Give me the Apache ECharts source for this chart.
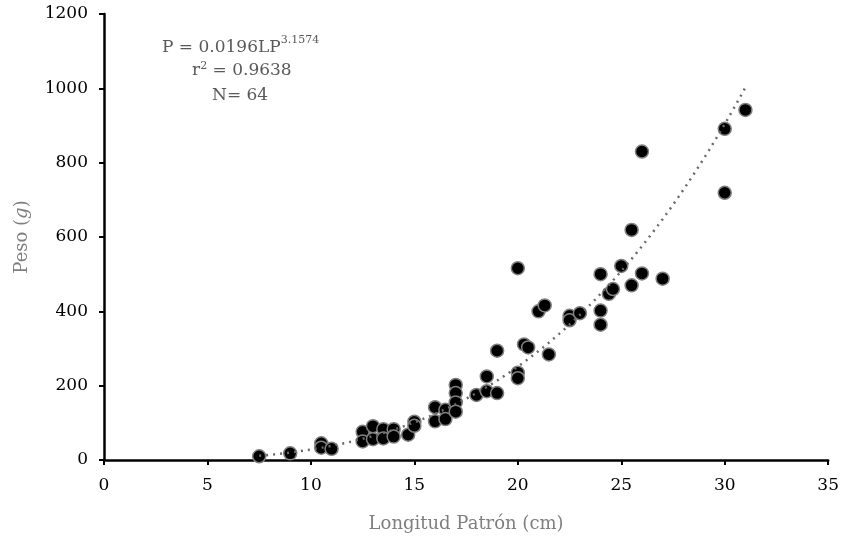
<!DOCTYPE html>
<html>
<head>
<meta charset="utf-8">
<script src="https://cdn.jsdelivr.net/npm/echarts@6/dist/echarts.min.js"></script>
<style>
html,body{margin:0;padding:0;background:#fff;}
#chart{width:842px;height:538px;}
</style>
</head>
<body>
<div id="chart"></div>
<script>
// Longitud Patrón (cm)
var lengths = [7.5, 9, 10.5, 10.5, 11, 12.5, 12.5, 13, 13, 13.5, 13.5, 14, 14, 14.7, 15, 15,
  16, 16, 16.5, 16.5, 17, 17, 17, 17, 18, 18.5, 18.5, 19, 19, 20, 20, 20, 20.3, 20.5,
  21, 21.3, 21.5, 22.5, 22.5, 23, 24, 24, 24, 24.4, 24.6, 25, 25.5, 25.5, 26, 26, 27, 30, 30, 31];
// Peso (g)
var weights = [10, 18, 45, 33, 30, 76, 50, 91, 56, 83, 58, 83, 63, 68, 103, 92,
  142, 104, 135, 110, 202, 180, 155, 130, 175, 225, 185, 180, 294, 516, 235, 220, 311, 303,
  400, 416, 284, 388, 376, 395, 500, 402, 364, 447, 460, 522, 470, 619, 502, 830, 488, 891, 719, 942];
// Fitted power curve shown in the chart: P = a * LP^b
var fitA = 0.0196;
var fitB = 3.1574;
var fitRange = [7.5, 31];
var xTicks = [0, 5, 10, 15, 20, 25, 30, 35];
var yTicks = [0, 200, 400, 600, 800, 1000, 1200];

var pts = lengths.map(function(x, i){ return [x, weights[i]]; });
var fit = [];
for (var x = fitRange[0]; x <= fitRange[1] + 1e-9; x += 0.25) {
  fit.push([x, fitA * Math.pow(x, fitB)]);
}

var font = 'DejaVu Serif';
var chart = echarts.init(document.getElementById('chart'));
chart.setOption({
  animation: false,
  grid: {left: 104, right: 13, top: 14, bottom: 78},
  xAxis: {
    type: 'value', min: xTicks[0], max: xTicks[xTicks.length-1], interval: 5,
    name: 'Longitud Patrón (cm)', nameLocation: 'middle', nameGap: 55,
    nameTextStyle: {fontFamily: font, fontSize: 18, color: '#7f7f7f'},
    axisLine: {lineStyle: {color: '#000', width: 2.5}},
    axisTick: {show: true, length: 5, lineStyle: {color: '#000', width: 2}},
    axisLabel: {fontFamily: font, fontSize: 17, color: '#000', margin: 17,
      formatter: function(v){ return String(v); }},
    splitLine: {show: false}
  },
  yAxis: {
    type: 'value', min: yTicks[0], max: yTicks[yTicks.length-1], interval: 200,
    name: 'Peso ({i|g})', nameLocation: 'middle', nameGap: 73,
    nameTextStyle: {fontFamily: font, fontSize: 18, color: '#7f7f7f',
      rich: {i: {fontFamily: font, fontSize: 18, color: '#7f7f7f', fontStyle: 'italic'}}},
    axisLine: {show: true, lineStyle: {color: '#000', width: 2.5}},
    axisTick: {show: true, length: 5, lineStyle: {color: '#000', width: 2}},
    axisLabel: {fontFamily: font, fontSize: 17, color: '#000', margin: 16,
      formatter: function(v){ return String(v); }},
    splitLine: {show: false}
  },
  series: [
    {
      type: 'scatter', data: pts, symbolSize: 13,
      itemStyle: {color: '#000', borderColor: '#808080', borderWidth: 1.5, opacity: 1},
      z: 2
    },
    {
      type: 'line', data: fit, showSymbol: false, smooth: false,
      lineStyle: {color: '#6a6a6a', width: 2.5, type: [2, 5]},
      z: 3
    }
  ],
  graphic: [{
    type: 'text', left: 162, top: 35,
    style: {
      text: '{m|P = 0.0196LP}{s|3.1574}\n',
      fill: '#595959',
      rich: {
        m: {fontFamily: font, fontSize: 17, fill: '#595959', lineHeight: 26},
        s: {fontFamily: font, fontSize: 11, fill: '#595959', verticalAlign: 'top', lineHeight: 26, padding:[0,0,8,0]}
      }
    }
  }, {
    type: 'text', left: 192, top: 61,
    style: {
      text: '{m|r}{s|2}{m| = 0.9638}',
      rich: {
        m: {fontFamily: font, fontSize: 17, fill: '#595959', lineHeight: 26},
        s: {fontFamily: font, fontSize: 11, fill: '#595959', lineHeight: 26, padding:[0,0,8,0]}
      }
    }
  }, {
    type: 'text', left: 212, top: 87,
    style: {
      text: 'N= 64',
      fontFamily: font, fontSize: 17, fill: '#595959'
    }
  }]
});
</script>
</body>
</html>
